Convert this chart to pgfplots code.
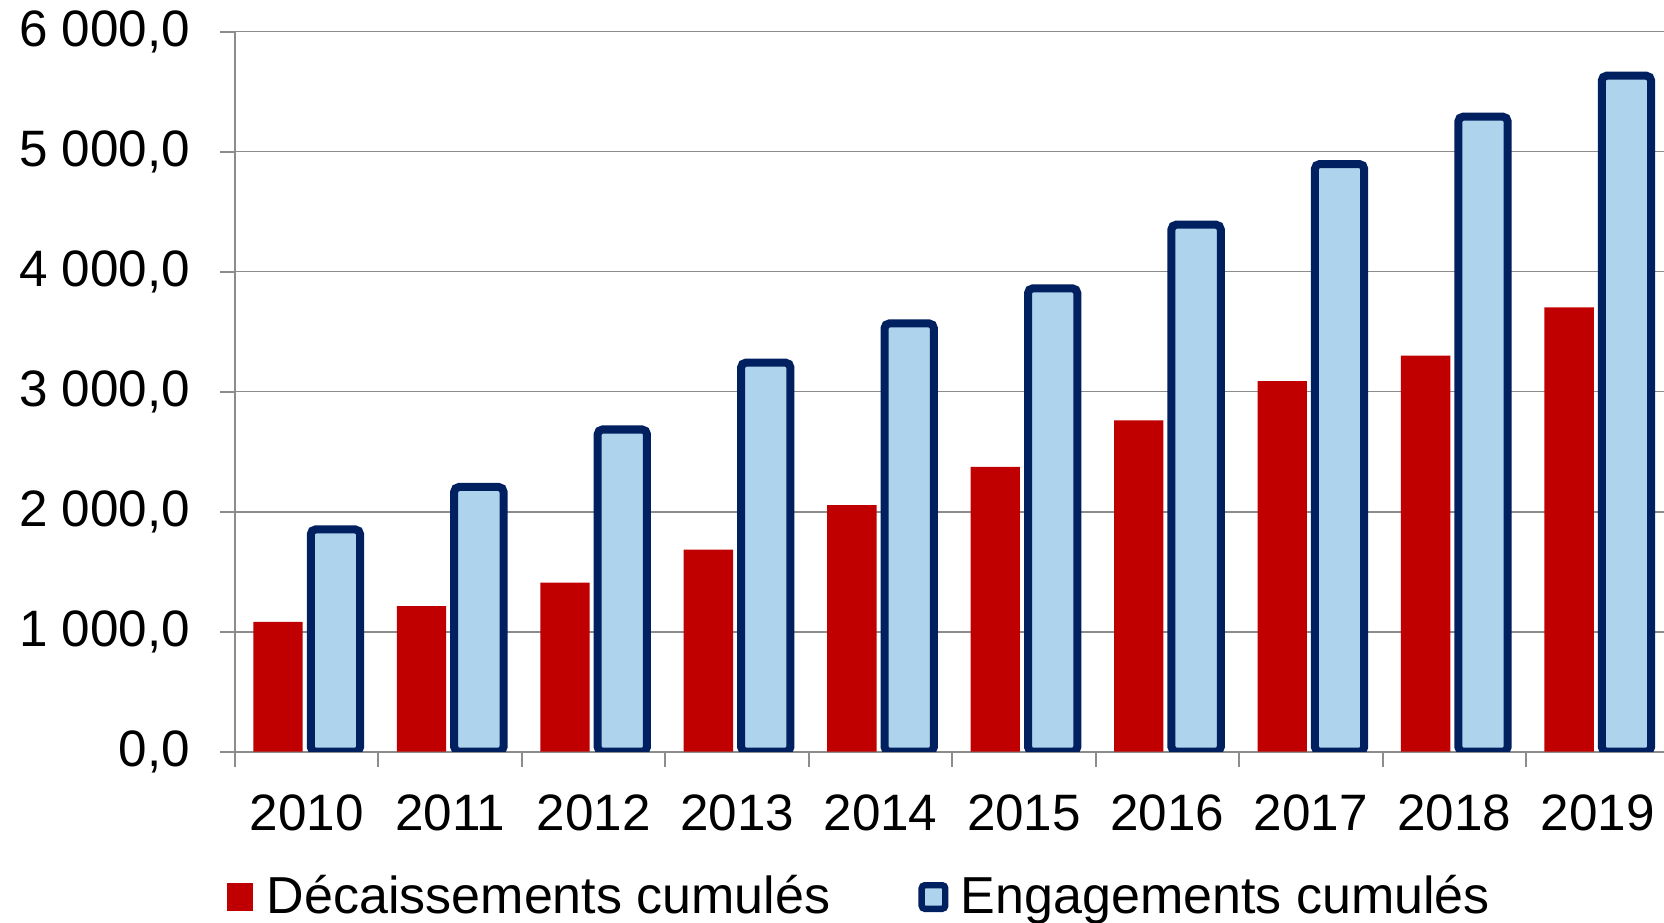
\documentclass[border=0pt]{standalone}
\usepackage{fontspec}
\setmainfont{Liberation Sans}
\usepackage{pgfplots}
\pgfplotsset{compat=1.18}

\definecolor{decred}{HTML}{C00000}
\definecolor{engfill}{HTML}{AED3ED}
\definecolor{engline}{HTML}{002060}
\definecolor{gridgray}{HTML}{8C8C8C}

\begin{document}
\begin{tikzpicture}
\begin{axis}[
    name=ax,
    scale only axis,
    width=358.6pt, height=180pt,
    xmin=-0.5, xmax=9.5,
    ymin=0, ymax=6000,
    ybar,
    bar width=0.344,
    axis x line*=bottom, axis y line*=left,
    axis line style={gridgray, line width=0.5pt},
    xtick={-0.5,0.5,...,9.5},
    xticklabels={2010,2011,2012,2013,2014,2015,2016,2017,2018,2019},
    x tick label as interval,
    ytick={0,1000,...,6000},
    ymajorgrids,
    grid style={gridgray, line width=0.4pt},
    tick align=outside,
    major tick length=3.75pt,
    tick style={gridgray, line width=0.5pt},
    /pgf/number format/.cd, fixed, fixed zerofill, precision=1, use comma, 1000 sep={\ }, assume math mode=true,
    /pgfplots/.cd,
    tick label style={font=\fontsize{12.8}{15}\selectfont, black},
    yticklabel style={xshift=-4pt},
    xticklabel style={yshift=-3.5pt},
    legend style={at={(0.4375,-0.2018)}, anchor=center, draw=none,
        font=\fontsize{13}{15}\selectfont,
        legend columns=2,
        /tikz/every even column/.append style={column sep=20pt}},
]
\addplot[fill=decred, draw=none, bar shift=-0.2,
    legend image code/.code={\fill[decred] (0pt,-3.45pt) rectangle (6.4pt,3.45pt); \path (7.9pt,0pt);}]
    coordinates {
    (0,1081)(1,1214)(2,1409)(3,1683)(4,2055)(5,2373)(6,2762)(7,3089)(8,3300)(9,3703)
    };
\addlegendentry{Décaissements cumulés}
\addplot[fill=engfill, draw=engline, line width=2pt, rounded corners=1.2pt, bar shift=0.2,
    legend image code/.code={\filldraw[fill=engfill, draw=engline, line width=1.6pt, rounded corners=0.8pt] (0.8pt,-2.95pt) rectangle (6.7pt,2.95pt); \path (7.6pt,0pt);}]
    coordinates {
    (0,1852)(1,2206)(2,2685)(3,3242)(4,3569)(5,3861)(6,4392)(7,4897)(8,5292)(9,5633)
    };
\addlegendentry{Engagements cumulés}
\end{axis}
\pgfresetboundingbox
\path[use as bounding box] ([shift={(-58.75pt,-42.575pt)}]ax.south west) rectangle ([shift={(-1.375pt,7.925pt)}]ax.north east);
\end{tikzpicture}
\end{document}
